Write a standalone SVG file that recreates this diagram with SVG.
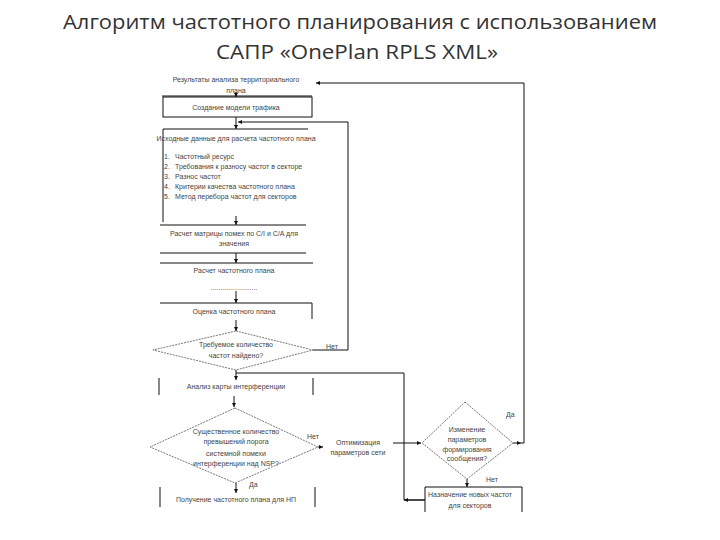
<svg xmlns="http://www.w3.org/2000/svg" width="720" height="540" viewBox="0 0 720 540">
<style>
.title{font-family:"Open Sans","Liberation Sans",Arial,sans-serif;font-size:20px;fill:#333;text-anchor:middle}
.t{font-family:"Liberation Sans",Arial,sans-serif;font-size:7px;fill:#444;text-anchor:middle}
.tl{font-family:"Liberation Sans",Arial,sans-serif;font-size:7px;fill:#444}
.ln{stroke:#111;stroke-width:1;fill:none}
.dm{stroke:#555;stroke-width:0.8;fill:none;stroke-dasharray:2 1}
</style>
<defs>
<marker id="ah" viewBox="0 0 10 10" refX="10" refY="5" markerWidth="4" markerHeight="4" orient="auto">
<path d="M0,0 L10,5 L0,10 z" fill="#111"/>
</marker>
</defs>
<rect width="720" height="540" fill="#fff"/>
<g id="title">
<text class="title" x="360" y="29" textLength="594" lengthAdjust="spacingAndGlyphs">Алгоритм частотного планирования  с использованием</text>
<text class="title" x="357" y="59" textLength="282" lengthAdjust="spacingAndGlyphs">САПР «OnePlan RPLS XML»</text>
</g>
<g id="connectors">
<line class="ln" x1="236" y1="92" x2="236" y2="97" marker-end="url(#ah)"/>
<line class="ln" x1="236" y1="117" x2="236" y2="129" marker-end="url(#ah)"/>
<polyline class="ln" points="313,350 348,350 348,122 238,122" marker-end="url(#ah)"/>
<line class="ln" x1="236" y1="216" x2="236" y2="225" marker-end="url(#ah)"/>
<line class="ln" x1="236" y1="253" x2="236" y2="263" marker-end="url(#ah)"/>
<line class="ln" x1="236" y1="291" x2="236" y2="303" marker-end="url(#ah)"/>
<line class="ln" x1="236" y1="320" x2="236" y2="331" marker-end="url(#ah)"/>
<line class="ln" x1="236" y1="370" x2="236" y2="380" marker-end="url(#ah)"/>
<polyline class="ln" points="425,500 404,500 404,373 236,373"/>
<line class="ln" x1="234" y1="396" x2="234" y2="407" marker-end="url(#ah)"/>
<line class="ln" x1="318" y1="447" x2="323" y2="447" marker-end="url(#ah)"/>
<line class="ln" x1="236" y1="483" x2="236" y2="493" marker-end="url(#ah)"/>
<line class="ln" x1="393" y1="443" x2="421" y2="443" marker-end="url(#ah)"/>
<line class="ln" x1="467" y1="479" x2="467" y2="487" marker-end="url(#ah)"/>
<line class="ln" x1="425" y1="500" x2="404" y2="500" marker-end="url(#ah)"/>
<line class="ln" x1="513" y1="443" x2="521" y2="443" marker-end="url(#ah)"/>
<polyline class="ln" points="521,443 524,443 524,83 316,83" marker-end="url(#ah)"/>
</g>
<g id="n1">
<text class="t" x="236" y="82">Результаты анализа территориального</text>
<text class="t" x="236" y="93">плана</text>
<line class="ln" x1="162" y1="96" x2="312" y2="96"/>
</g>
<g id="n2">
<rect class="ln" x="163" y="97" width="149" height="20"/>
<text class="t" x="236" y="110">Создание модели трафика</text>
</g>
<g id="n3">
<polyline class="ln" points="163,222 163,129 308,129"/>
<text class="t" x="236" y="141">Исходные данные для расчета частотного плана</text>
<text class="tl" x="164" y="159">1.</text><text class="tl" x="175" y="159">Частотный ресурс</text>
<text class="tl" x="164" y="169">2.</text><text class="tl" x="175" y="169">Требования к разносу частот в секторе</text>
<text class="tl" x="164" y="179">3.</text><text class="tl" x="175" y="179">Разнос частот</text>
<text class="tl" x="164" y="189">4.</text><text class="tl" x="175" y="189">Критерии качества частотного плана</text>
<text class="tl" x="164" y="199">5.</text><text class="tl" x="175" y="199">Метод перебора частот для секторов</text>
</g>
<g id="n4">
<line class="ln" x1="160" y1="225" x2="306" y2="225"/>
<text class="t" x="234" y="236">Расчет матрицы помех по C/I и C/A для</text>
<text class="t" x="234" y="246">значения</text>
<line class="ln" x1="160" y1="253" x2="306" y2="253"/>
</g>
<g id="n5">
<line class="ln" x1="160" y1="263" x2="313" y2="263"/>
<text class="t" x="234" y="273">Расчет частотного плана</text>
<text class="t" x="234" y="290">........................</text>
</g>
<g id="n6">
<polyline class="ln" points="160,303 312,303 312,319"/>
<text class="t" x="234" y="314">Оценка частотного плана</text>
</g>
<g id="n7">
<polygon class="dm" points="236,331 313,350 236,370 153,350"/>
<text class="t" x="236" y="347">Требуемое количество</text>
<text class="t" x="236" y="358">частот найдено?</text>
<text class="tl" x="326" y="349">Нет</text>
</g>
<g id="n8">
<line class="ln" x1="159" y1="378" x2="159" y2="395"/>
<line class="ln" x1="313" y1="378" x2="313" y2="395"/>
<text class="t" x="236" y="389">Анализ карты интерференции</text>
</g>
<g id="n9">
<polygon class="dm" points="235,408 318,447 235,483 150,447"/>
<text class="t" x="236" y="434">Существенное количество</text>
<text class="t" x="236" y="444">превышений порога</text>
<text class="t" x="236" y="456">системной помехи</text>
<text class="t" x="236" y="466">интерференции над NSP?</text>
<text class="tl" x="307" y="439">Нет</text>
<text class="tl" x="249" y="487">Да</text>
</g>
<g id="n10">
<text class="t" x="358" y="445">Оптимизация</text>
<text class="t" x="358" y="455">параметров сети</text>
</g>
<g id="n11">
<line class="ln" x1="160" y1="487" x2="160" y2="507"/>
<line class="ln" x1="315" y1="487" x2="315" y2="507"/>
<text class="t" x="236" y="502">Получение частотного плана для НП</text>
</g>
<g id="n12">
<polygon class="dm" points="465,402 513,443 467,479 422,443"/>
<text class="t" x="467" y="432">Изменение</text>
<text class="t" x="467" y="442">параметров</text>
<text class="t" x="467" y="452">формирования</text>
<text class="t" x="467" y="461">сообщения?</text>
<text class="tl" x="506" y="417">Да</text>
<text class="tl" x="486" y="482">Нет</text>
</g>
<g id="n13">
<polyline class="ln" points="425,512 425,487 522,487 522,512"/>
<text class="t" x="470" y="497">Назначение новых частот</text>
<text class="t" x="470" y="508">для секторов</text>
</g>
</svg>
